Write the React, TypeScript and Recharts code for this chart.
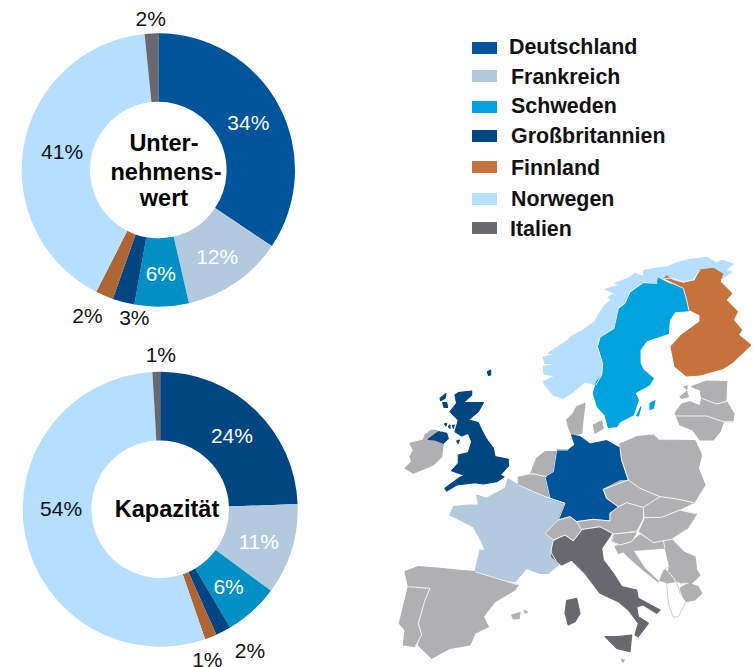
import { Cell, Pie, PieChart } from "recharts"

const countries = ["Deutschland", "Frankreich", "Schweden", "Großbritannien", "Finnland", "Norwegen", "Italien"]
const enterpriseValue = [34.4, 12.0, 6.4, 2.6, 2.1, 40.9, 1.6]
const capacity = [24.4, 10.7, 6.4, 1.8, 1.4, 54.4, 0.9]

const legendColors = ["#00549a", "#b2c9de", "#00a3de", "#004680", "#c5723c", "#b5deff", "#68686e"]
const enterpriseColors = ["#00549a", "#b2c9de", "#0090c5", "#004680", "#ae6534", "#b5deff", "#68686e"]
const capacityColors = ["#004680", "#b2c9de", "#0090c5", "#004680", "#ae6534", "#b5deff", "#68686e"]
const labelColors = ["#fff", "#fff", "#fff", "#111", "#111", "#111", "#111"]

// label placement per slice: radius from centre and a small nudge, as hand placed in the original
const enterpriseLabels = [
  [102, 0, 1],
  [102, 1, 2],
  [102, 0, 2],
  [153, 15, 0],
  [162, -7, -3],
  [102, 4, 0],
  [151, 0, -1],
]
const capacityLabels = [
  [102, 1, 0],
  [102, 1, 2],
  [102, 0, 2],
  [167, 13, -7],
  [158, -11, 3],
  [102, 1, -20],
  [154, 5, -1],
]

const legendSwatchY = [48, 76, 107, 136, 167, 199, 228]
const legendTextY = [46.5, 76.5, 106, 136, 167.5, 199, 228.5]
const legendTextX = [509, 511, 511, 511, 511, 511, 510]

const GREY = "#b0b0b2"
const NORWAY = "#b5deff"
const SWEDEN = "#00a3de"
const FINLAND = "#c5723c"
const BRITAIN = "#004680"
const GERMANY = "#00549a"
const FRANCE = "#b2c9de"
const ITALY = "#68686e"

type MapLayer = { origin: [number, number]; shapes: [string, string][]; borders: string[] }

// map outlines at 3x, one layer per area
const mapLayers: MapLayer[] = [
  {
    origin: [380, 240],
    shapes: [
      [FRANCE, "385,717 415,735 460,755 495,770 550,790 535,840 495,880 520,900 512,935 530,965 535,975 505,1000 480,1000 440,985 405,1025 350,1015 285,995 300,930 315,932 305,905 280,860 210,825 220,800 265,795 295,795 290,765 320,775 375,745"],
      [GREY, "75,995 115,980 180,985 230,990 285,995 350,1015 415,1035 405,1050 345,1085 310,1130 325,1160 285,1180 270,1215 210,1225 155,1255 115,1215 125,1185 115,1150 135,1080 150,1045 85,1040"],
      [GREY, "85,1040 150,1045 135,1080 115,1150 125,1185 105,1220 70,1215 75,1170 58,1150 70,1100 80,1060"],
      [GREY, "395,1125 420,1118 418,1135 400,1137"],
      [GREY, "433,1112 443,1116 436,1120"],
      [ITALY, "520,905 555,885 580,900 610,870 665,860 695,880 665,925 670,960 700,1000 725,1040 770,1050 775,1075 840,1110 830,1120 790,1095 770,1100 775,1130 805,1150 775,1190 765,1185 775,1150 745,1110 715,1085 660,1060 615,1000 575,960 545,975 515,950"],
      [ITALY, "560,1082 590,1075 600,1120 585,1145 565,1155 555,1120"],
      [ITALY, "675,1190 710,1190 755,1185 750,1235 710,1225"],
      [GREY, "724,1258 733,1260 729,1267"],
    ],
    borders: [
      "285,995 350,1015 415,1035",
      "85,1040 150,1045 135,1080 115,1150 125,1185 105,1220",
      "520,900 512,935 530,965",
    ],
  },
  {
    origin: [540, 250],
    shapes: [
      [NORWAY, "70,445 40,435 15,405 10,395 45,378 12,372 10,350 60,340 15,340 10,322 55,310 25,310 85,270 90,262 130,240 165,215 175,195 195,165 215,150 205,142 225,130 195,118 240,105 225,100 265,85 285,70 310,80 312,62 345,55 385,50 405,40 440,30 500,22 530,40 545,30 580,42 555,62 575,65 548,85 540,65 515,55 480,60 460,90 430,95 395,85 370,85 352,90 350,100 310,98 270,125 255,160 235,175 222,235 180,262 172,290 188,340 185,375 168,405 135,395 100,425"],
      [SWEDEN, "355,85 385,100 430,115 440,150 447,182 405,185 388,210 385,250 320,272 300,300 300,340 310,360 340,385 328,405 285,428 295,450 280,495 240,515 230,530 205,532 195,495 172,470 160,430 170,395 188,375 190,340 175,290 182,262 222,238 235,178 255,162 272,128 310,100 352,100"],
      [SWEDEN, "330,460 345,452 340,475 330,478"],
      [SWEDEN, "290,497 303,470 295,498"],
      [FINLAND, "372,85 380,78 400,92 430,100 465,92 480,60 520,55 548,72 540,95 575,130 558,150 592,185 580,210 605,240 595,255 632,285 580,335 550,355 480,375 440,378 405,350 393,290 425,255 480,215 480,195 450,180 440,150 432,115 400,100"],
      [GREY, "455,410 500,393 560,395 558,450 530,462 485,445 480,420"],
      [GREY, "420,440 440,425 445,440 425,445"],
      [GREY, "432,410 442,408 440,418"],
      [GREY, "405,490 425,462 450,455 480,468 485,445 530,462 560,455 582,492 578,515 550,515 500,498 410,498"],
      [GREY, "410,500 500,498 550,518 540,545 520,570 480,570 458,540 420,525"],
      [GREY, "80,510 100,490 110,470 135,460 130,500 125,550 95,555 85,530"],
      [GREY, "160,525 185,512 190,535 165,550"],
    ],
    borders: [
      "352,100 310,98 270,125 255,160 235,175 222,235 180,262 172,290 188,340 185,375 168,405",
      "372,85 395,85 430,95 460,90 480,60",
      "372,88 400,100 430,115 440,150 447,182",
      "485,445 530,462 560,455",
      "410,498 500,498 550,515 578,515",
    ],
  },
  {
    origin: [400, 360],
    shapes: [
      [BRITAIN, "175,98 215,93 215,105 190,128 250,128 235,155 205,180 235,188 245,210 258,235 280,265 285,290 325,298 325,318 300,345 312,350 290,365 250,372 225,368 170,375 140,393 135,385 180,352 215,340 190,345 155,332 175,310 175,285 205,278 215,245 205,220 185,228 165,215 175,180 160,165 150,155 170,130 165,105"],
      [GREY, "75,225 95,210 112,212 85,238 105,240 130,250 125,290 100,315 40,340 15,325 35,305 30,290 40,270 30,250 70,240"],
      [BRITAIN, "85,238 115,215 140,220 145,235 130,250 105,240"],
      [BRITAIN, "120,115 138,100 135,115 122,122"],
      [BRITAIN, "128,128 140,128 143,142 132,142"],
      [BRITAIN, "262,35 272,30 272,45 265,46"],
      [BRITAIN, "133,192 140,190 138,198"],
      [BRITAIN, "145,200 150,195 150,205"],
      [BRITAIN, "157,197 163,195 160,205"],
      [BRITAIN, "170,243 178,240 175,250"],
      [GREY, "392,340 410,295 435,275 470,275 460,335 440,348 415,345"],
      [GREY, "355,352 385,345 415,345 440,350 450,410 435,410 400,395 355,375"],
    ],
    borders: ["355,375 400,395 435,410 495,430", "392,340 415,345 440,350"],
  },
  {
    origin: [540, 420],
    shapes: [
      [GERMANY, "95,45 120,50 150,72 200,62 240,85 245,120 265,180 190,208 200,235 235,260 210,280 210,303 160,298 110,305 90,290 55,300 75,250 30,235 15,170 40,155 50,90 85,90 105,75"],
      [GREY, "240,72 290,50 340,45 355,60 465,62 485,105 475,145 495,195 462,248 410,235 360,228 300,205 265,180 245,120"],
      [GREY, "190,208 240,182 265,182 300,205 360,230 310,260 260,248 235,260 200,235"],
      [GREY, "310,262 360,232 410,237 460,248 420,268 365,290 315,292"],
      [GREY, "110,305 160,298 210,303 210,280 260,250 310,262 308,295 290,330 220,340 180,320 125,328"],
      [GREY, "315,295 365,292 420,272 470,282 440,328 390,360 340,365 295,335"],
      [GREY, "55,300 90,290 110,305 125,330 100,362 75,345 40,360 15,340"],
      [GREY, "220,342 290,335 275,365 240,375 215,365"],
      [GREY, "225,380 275,365 300,345 340,368 370,362 375,385 280,390 310,430 355,485 310,450 270,415 250,395 235,400"],
      [GREY, "370,362 395,358 430,395 465,410 470,450 480,465 455,490 425,490 405,480 385,455 388,440"],
      [GREY, "358,480 375,450 405,470 405,490 385,490"],
      [GREY, "420,505 445,490 475,500 485,520 465,540 435,545"],
    ],
    borders: [
      "240,85 245,120 265,180",
      "265,180 190,208 200,235 235,260",
      "235,260 210,280 210,303 160,298 110,305",
      "110,305 90,290 55,300",
      "55,300 75,250 30,235",
      "30,235 15,170 40,155 50,90 85,90",
      "265,180 300,205 360,230",
      "360,230 410,237 462,248",
      "235,260 260,248 310,262",
      "360,230 310,262 312,295 295,335",
      "315,293 365,292 420,270 470,282",
      "295,335 220,342",
      "125,328 180,320 220,342",
      "110,305 125,330",
      "15,340 40,360 75,345 100,362 125,330",
      "55,300 15,340",
      "215,365 240,375 275,365 295,335",
      "295,335 340,368 370,362",
      "370,362 395,358 440,328",
      "370,362 375,385",
      "385,455 405,480 405,490",
      "425,490 445,490",
      "220,342 215,365",
    ],
  },
]

// the two countries the original leaves unfilled, same 3x trace as the first layer
const mapOutlined = ["760,932 855,925 868,980 850,990 838,1025 795,985", "860,1030 890,1025 900,1060 918,1085 895,1130 880,1132 865,1090"]

const toRows = (values: number[]) => values.map((value, i) => ({ name: countries[i], value }))

const RADIAN = Math.PI / 180

function sliceLabel(placement: number[][]) {
  return (props: any) => {
    const { cx, cy, midAngle, index, value } = props
    const [radius, dx, dy] = placement[index]
    const x = cx + radius * Math.cos(-midAngle * RADIAN) + dx
    const y = cy + radius * Math.sin(-midAngle * RADIAN) + dy
    return (
      <text x={x} y={y} fill={labelColors[index]} fontSize={21} textAnchor="middle" dominantBaseline="central">
        {Math.round(value)}%
      </text>
    )
  }
}

export default function App() {
  return (
    <div style={{ position: "absolute", left: 0, top: 0, width: 753, height: 667, fontFamily: "'Liberation Sans', Arial, sans-serif" }}>
      <PieChart width={753} height={667} margin={{ top: 0, right: 0, bottom: 0, left: 0 }}>
        {/* shapes are grown a little to close tracing gaps, land borders go on top in white */}
        {mapLayers.map((layer, l) => (
          <g key={l} transform={`translate(${layer.origin[0]} ${layer.origin[1]}) scale(0.33333)`}>
            {layer.shapes.map(([fill, points], i) => (
              <polygon key={i} points={points} fill={fill} stroke={fill} strokeWidth={3.5} strokeLinejoin="round" />
            ))}
          </g>
        ))}
        {mapLayers.map((layer, l) => (
          <g key={l} transform={`translate(${layer.origin[0]} ${layer.origin[1]}) scale(0.33333)`}>
            {layer.borders.map((points, i) => (
              <polyline key={i} points={points} fill="none" stroke="#fff" strokeWidth={2.6} strokeLinejoin="round" />
            ))}
          </g>
        ))}
        <g transform="translate(380 240) scale(0.33333)">
          {mapOutlined.map((points, i) => (
            <polygon key={i} points={points} fill="#fff" stroke="#9a9a9d" strokeWidth={1.5} />
          ))}
        </g>
        <Pie
          data={toRows(enterpriseValue)}
          dataKey="value"
          cx={158.3}
          cy={170}
          innerRadius={68.3}
          outerRadius={136.7}
          startAngle={90}
          endAngle={-270}
          stroke="none"
          labelLine={false}
          label={sliceLabel(enterpriseLabels)}
          isAnimationActive={false}
        >
          {enterpriseColors.map((color, i) => (
            <Cell key={i} fill={color} />
          ))}
        </Pie>
        <Pie
          data={toRows(capacity)}
          dataKey="value"
          cx={160.2}
          cy={509.2}
          innerRadius={68.8}
          outerRadius={137.5}
          startAngle={90}
          endAngle={-270}
          stroke="none"
          labelLine={false}
          label={sliceLabel(capacityLabels)}
          isAnimationActive={false}
        >
          {capacityColors.map((color, i) => (
            <Cell key={i} fill={color} />
          ))}
        </Pie>
        <g fontWeight="bold" fontSize={23.5} fill="#000" textAnchor="middle">
          <text x={164} y={151}>Unter-</text>
          <text x={166} y={180}>nehmens-</text>
          <text x={164} y={206}>wert</text>
          <text x={167} y={517}>Kapazität</text>
        </g>
        <g>
          {countries.map((name, i) => (
            <g key={name}>
              <rect x={472} y={legendSwatchY[i] - 6} width={25} height={12} fill={legendColors[i]} />
              <text x={legendTextX[i]} y={legendTextY[i]} fontSize={21.4} fontWeight="bold" fill="#111" dominantBaseline="central">
                {name}
              </text>
            </g>
          ))}
        </g>
      </PieChart>
    </div>
  )
}
